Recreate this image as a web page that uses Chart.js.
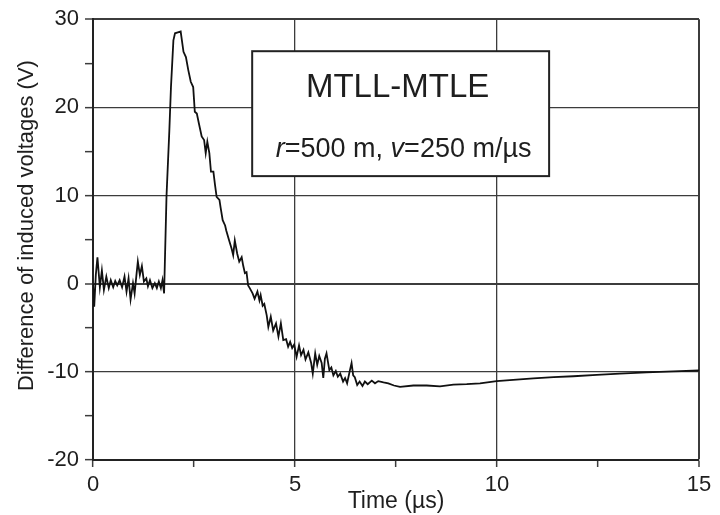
<!DOCTYPE html>
<html>
<head>
<meta charset="utf-8">
<script src="https://cdn.jsdelivr.net/npm/chart.js@4.4.0/dist/chart.umd.min.js"></script>
<style>
  html, body { margin: 0; padding: 0; background: #fff; }
  #wrap { width: 720px; height: 515px; }
</style>
</head>
<body>
<div id="wrap"><canvas id="chart" width="720" height="515"></canvas></div>
<script>
// time axis (µs) and voltage difference (V)
const timeUs = [
  0.00, 0.03, 0.07, 0.11, 0.17, 0.22, 0.27, 0.33, 0.39, 0.44,
  0.50, 0.55, 0.60, 0.66, 0.72, 0.78, 0.83, 0.88, 0.93, 0.99,
  1.03, 1.08, 1.11, 1.16, 1.21, 1.26, 1.32, 1.36, 1.41, 1.47,
  1.53, 1.58, 1.63, 1.68, 1.72, 1.76, 1.82, 1.89, 1.93, 1.99,
  2.03, 2.10, 2.17, 2.24, 2.30, 2.36, 2.42, 2.48, 2.52, 2.57,
  2.62, 2.69, 2.75, 2.79, 2.83, 2.88, 2.92, 2.98, 3.02, 3.06,
  3.13, 3.16, 3.21, 3.27, 3.30, 3.37, 3.43, 3.47, 3.51, 3.57,
  3.62, 3.68, 3.72, 3.76, 3.80, 3.84, 3.88, 3.95, 4.00, 4.07,
  4.12, 4.15, 4.20, 4.24, 4.30, 4.34, 4.40, 4.46, 4.53, 4.59,
  4.65, 4.71, 4.78, 4.83, 4.88, 4.93, 4.98, 5.04, 5.10, 5.15,
  5.21, 5.26, 5.33, 5.40, 5.44, 5.50, 5.55, 5.60, 5.66, 5.70,
  5.74, 5.78, 5.85, 5.90, 5.95, 6.01, 6.06, 6.12, 6.19, 6.24,
  6.29, 6.36, 6.40, 6.44, 6.48, 6.54, 6.60, 6.67, 6.73, 6.80,
  6.90, 6.98, 7.06, 7.19, 7.31, 7.45, 7.60, 7.93, 8.26, 8.59,
  8.92, 9.25, 9.58, 9.99, 10.40, 10.90, 11.40, 11.89, 12.47, 13.04,
  13.70, 14.36, 15.00
];
const voltDiff = [
  0.0, -2.6, 1.0, 3.0, -0.4, 1.5, -0.7, 0.8, -0.5, 0.4,
  -0.4, 0.3, -0.2, 0.4, -0.4, 0.8, -0.9, 0.6, -1.8, 0.05,
  -1.1, 1.2, 2.5, 1.0, 2.0, 0.25, 0.6, -0.3, 0.4, -0.5,
  0.05, -0.5, 0.25, -0.5, 0.4, -1.1, 10.0, 17.4, 22.3, 27.6,
  28.4, 28.5, 28.6, 26.3, 25.7, 24.2, 22.9, 22.3, 19.5, 19.3,
  18.2, 16.7, 16.3, 14.8, 16.1, 14.8, 12.7, 12.7, 11.2, 9.85,
  9.5, 8.6, 7.2, 6.6, 6.0, 4.9, 4.0, 3.25, 4.9, 3.4,
  2.5, 3.0, 2.0, 1.2, 1.3, -0.2, -0.5, -1.1, -1.7, -0.9,
  -1.9, -1.3, -2.5, -2.3, -3.6, -4.9, -3.75, -5.3, -4.5, -6.0,
  -4.5, -6.4, -6.3, -7.15, -6.6, -7.3, -6.9, -8.3, -7.0, -8.1,
  -7.5, -8.6, -7.8, -9.0, -10.2, -7.9, -9.2, -8.2, -9.0, -10.7,
  -8.5, -7.9, -9.8, -9.5, -10.4, -9.9, -10.55, -10.2, -11.1, -10.7,
  -11.3, -9.8, -9.0, -10.4, -10.6, -11.5, -11.1, -11.6, -11.1, -11.4,
  -11.0, -11.3, -11.05, -11.2, -11.3, -11.55, -11.7, -11.55, -11.55, -11.65,
  -11.45, -11.4, -11.3, -11.05, -10.9, -10.75, -10.6, -10.5, -10.35, -10.2,
  -10.05, -9.95, -9.85
];

const xMajor = [0, 5, 10, 15];
const yMajor = [-20, -10, 0, 10, 20, 30];
const boxTitle = 'MTLL-MTLE';
const yTitle = 'Difference of induced voltages (V)';

const FONT = '"Liberation Sans", Arial, Helvetica, sans-serif';
const INK = '#1e1e1e';
const GRID = '#3c3c3c';

// text box, placed in data units
const labelBox = { t0: 3.94, t1: 11.29, v0: 26.37, v1: 12.2 };

const boxPlugin = {
  id: 'labelBox',
  afterDatasetsDraw(chart) {
    const { ctx, chartArea, scales: { x, y } } = chart;
    const l = x.getPixelForValue(labelBox.t0), r = x.getPixelForValue(labelBox.t1);
    const t = y.getPixelForValue(labelBox.v0), b = y.getPixelForValue(labelBox.v1);
    ctx.save();
    ctx.fillStyle = '#fff';
    ctx.fillRect(l, t, r - l, b - t);
    ctx.strokeStyle = '#222';
    ctx.lineWidth = 2;
    ctx.strokeRect(l, t, r - l, b - t);

    const cx = (l + r) / 2;
    ctx.fillStyle = INK;
    ctx.textBaseline = 'alphabetic';
    ctx.textAlign = 'center';
    ctx.font = '33px ' + FONT;
    ctx.fillText(boxTitle, cx - 3, t + 46);

    // second line: r=500 m, v=250 m/µs with italic symbols
    const parts = [
      ['r', true], ['=500 m, ', false], ['v', true], ['=250 m/\u00b5s', false]
    ];
    const fontFor = it => (it ? 'italic ' : '') + '27px ' + FONT;
    let w = 0;
    parts.forEach(p => { ctx.font = fontFor(p[1]); w += ctx.measureText(p[0]).width; });
    let px = cx + 3 - w / 2;
    ctx.textAlign = 'left';
    parts.forEach(p => {
      ctx.font = fontFor(p[1]);
      ctx.fillText(p[0], px, t + 106);
      px += ctx.measureText(p[0]).width;
    });

    // y axis title, sits a bit above the plot centre in the original
    ctx.translate(27, (chartArea.top + chartArea.bottom) / 2 - 14);
    ctx.rotate(-Math.PI / 2);
    ctx.textAlign = 'center';
    ctx.textBaseline = 'middle';
    ctx.font = '22px ' + FONT;
    ctx.fillText(yTitle, 0, 0);
    ctx.restore();
  }
};

const points = timeUs.map((t, i) => ({ x: t, y: voltDiff[i] }));

new Chart(document.getElementById('chart'), {
  type: 'line',
  data: {
    datasets: [{
      data: points,
      borderColor: '#111',
      borderWidth: 1.8,
      pointRadius: 0,
      tension: 0,
      fill: false
    }]
  },
  options: {
    responsive: false,
    animation: false,
    layout: { padding: { left: 0, top: 19, right: 21, bottom: 0 } },
    plugins: { legend: { display: false }, tooltip: { enabled: false } },
    scales: {
      x: {
        type: 'linear',
        min: 0, max: 15,
        afterFit(s) { s.height = 55; },
        ticks: {
          stepSize: 2.5,
          autoSkip: false,
          maxRotation: 0,
          padding: 5,
          color: INK,
          font: { size: 22, family: FONT },
          callback: v => (xMajor.includes(v) ? String(v) : '')
        },
        grid: {
          color: c => (xMajor.includes(c.tick.value) ? GRID : 'rgba(0,0,0,0)'),
          lineWidth: c => (c.tick.value === 15 ? 2 : 1.3),
          tickColor: GRID,
          tickWidth: 1.5,
          tickLength: 7
        },
        border: { color: '#222', width: 2 },
        title: {
          display: true,
          text: 'Time (\u00b5s)',
          color: INK,
          font: { size: 23, family: FONT },
          padding: { top: 0, bottom: 0 }
        }
      },
      y: {
        min: -20, max: 30,
        afterFit(s) { s.width = 93; },
        ticks: {
          stepSize: 5,
          autoSkip: false,
          padding: 6,
          color: INK,
          font: { size: 22, family: FONT },
          callback: v => (yMajor.includes(v) ? String(v) : '')
        },
        grid: {
          color: c => (yMajor.includes(c.tick.value) ? GRID : 'rgba(0,0,0,0)'),
          lineWidth: c => (c.tick.value === 0 || c.tick.value === 30 ? 2 : 1.3),
          tickColor: GRID,
          tickWidth: 1.5,
          tickLength: 8
        },
        border: { color: '#222', width: 2 }
      }
    }
  },
  plugins: [boxPlugin]
});
</script>
</body>
</html>
